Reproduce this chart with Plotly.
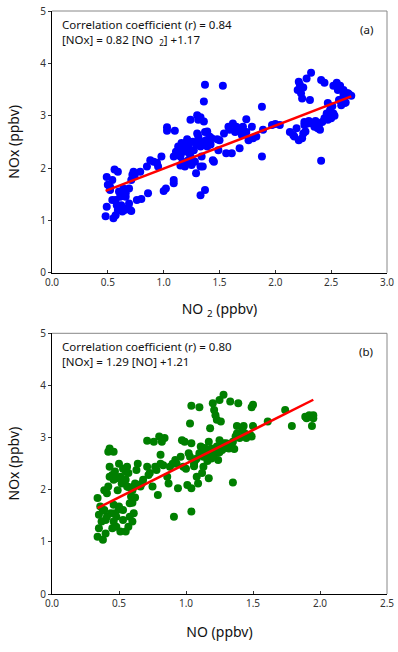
import plotly.graph_objects as go

# Panel (a): NO2 vs NOx
no2_a = [0.48,0.49,0.49,0.50,0.52,0.55,0.57,0.54,0.56,0.59,0.54,0.57,0.58,0.59,0.61,0.62,0.65,0.67,0.69,0.66,
         0.64,0.69,0.71,0.72,0.73,0.74,0.70,0.71,0.76,0.80,0.79,0.85,0.86,0.88,0.91,0.94,0.95,0.98,1.00,1.02,
         1.03,1.03,1.09,1.09,1.10,1.09,1.11,1.13,1.15,1.16,1.18,1.17,1.19,1.21,1.22,1.24,1.24,1.25,1.27,1.28,
         1.29,1.30,1.31,1.33,1.30,1.32,1.33,1.34,1.33,1.35,1.33,1.37,1.36,1.37,1.36,1.37,1.38,1.39,1.40,1.41,
         1.43,1.44,1.45,1.49,1.50,1.53,1.54,1.56,1.58,1.59,1.61,1.62,1.64,1.65,1.67,1.68,1.70,1.71,1.74,1.74,
         1.76,1.79,1.80,1.83,1.88,1.88,1.89,1.97,2.00,2.04,
         2.13,2.16,2.17,2.19,2.20,2.21,2.22,2.23,2.24,2.25,2.21,2.24,2.25,2.26,2.28,2.31,2.32,2.26,2.29,2.33,
         2.35,2.37,2.38,2.40,2.41,2.44,2.41,2.42,2.44,2.46,2.47,2.49,2.50,2.52,2.52,2.55,2.56,2.58,2.58,2.59,
         2.61,2.62,2.64,2.65,2.66,2.61,
         0.52,0.60,0.63,0.66,1.14,1.20,1.26,1.23,1.29,1.31,1.35,1.27,1.19,1.15,1.22,1.39,1.42,1.48,1.66,1.72,
         2.27,2.30,2.36,2.39,2.47,2.51,2.53,2.57,2.63,2.68]
nox_a = [1.08,1.26,1.83,1.68,1.64,1.04,1.10,1.77,1.97,1.93,1.39,1.39,1.29,1.20,1.45,1.29,1.20,1.23,1.32,1.52,
         1.61,1.61,1.77,1.87,1.93,1.85,1.20,1.18,1.39,1.41,1.93,2.03,1.52,2.15,2.12,2.10,2.03,2.22,1.56,1.61,
         2.78,2.71,1.71,1.77,2.71,2.22,2.31,2.41,2.22,2.48,2.31,2.12,2.03,2.55,2.41,2.22,2.92,2.06,2.34,2.12,
         1.90,3.01,2.92,2.97,2.66,2.53,2.41,2.22,2.03,2.03,1.48,1.58,3.27,3.59,2.89,2.69,2.53,2.41,2.48,2.60,
         2.57,2.15,2.12,2.34,2.53,3.57,2.66,2.28,2.79,2.73,2.28,2.85,2.69,2.79,2.76,2.38,2.63,2.79,2.93,2.69,
         2.53,2.79,2.57,2.60,3.17,2.22,2.73,2.82,2.84,2.82,
         2.69,2.63,2.60,2.76,3.49,3.65,3.59,3.43,3.33,3.54,2.53,2.57,2.66,2.82,3.71,3.30,3.82,2.88,2.85,2.85,
         2.79,2.82,2.76,2.73,3.68,3.63,2.14,2.88,2.95,3.04,3.24,3.11,2.95,3.04,3.57,3.63,3.49,3.57,3.30,3.20,
         3.40,3.24,3.43,3.43,3.41,3.49,
         1.58,1.55,1.17,1.45,2.35,2.45,2.50,2.28,2.45,2.60,2.48,2.13,2.40,2.05,2.15,2.70,2.45,2.55,2.72,2.70,
         2.70,2.90,2.90,2.78,2.92,3.18,3.00,3.30,3.25,3.38]

# Panel (b): NO vs NOx
no_b = [0.34,0.35,0.34,0.36,0.35,0.37,0.38,0.40,0.39,0.40,0.41,0.39,0.41,0.42,0.42,0.43,0.46,0.43,0.45,0.43,
        0.46,0.47,0.48,0.46,0.47,0.46,0.45,0.48,0.48,0.50,0.49,0.50,0.51,0.52,0.53,0.51,0.53,0.53,0.55,0.55,
        0.56,0.56,0.57,0.55,0.57,0.58,0.58,0.59,0.60,0.60,0.61,0.61,0.62,0.63,0.64,0.65,0.66,0.67,0.68,0.71,
        0.71,0.72,0.73,0.75,0.76,0.77,0.78,0.79,0.80,0.81,0.81,0.82,0.83,0.84,0.86,0.87,0.88,0.91,0.92,0.93,
        0.94,0.96,0.97,0.98,0.99,1.01,1.02,1.03,1.03,1.04,1.04,1.04,1.04,1.06,1.07,1.08,1.09,1.10,1.10,1.11,
        1.12,1.13,1.13,1.14,1.15,1.17,1.17,1.18,1.18,1.19,1.20,1.21,1.22,1.22,1.23,1.23,1.24,1.25,1.25,1.26,
        1.27,1.28,1.28,1.29,1.30,1.32,1.33,1.33,1.34,1.35,1.35,1.37,1.38,1.39,1.38,1.40,1.42,1.43,1.44,1.45,
        1.48,1.49,1.49,1.50,1.50,1.61,1.74,1.79,1.89,1.90,1.92,1.94,1.94,1.95,1.95,
        0.38,0.44,0.50,0.54,0.57,0.60,0.62,1.08,1.12,1.16,1.20,1.25,1.31,1.36,1.14,1.19,1.27,1.06,1.00,0.90]
nox_b = [1.10,1.26,1.84,1.68,1.52,1.39,1.04,1.16,1.61,1.42,1.48,1.99,1.93,2.06,2.73,2.79,2.73,2.44,2.28,2.25,
         2.19,2.35,2.22,1.71,1.55,1.39,1.26,1.29,1.48,1.68,1.99,2.50,2.25,2.12,2.40,1.20,1.42,1.61,2.35,2.19,
         2.44,2.06,2.32,1.20,1.29,1.48,1.74,1.87,1.99,1.39,1.55,2.06,2.12,2.38,2.50,2.09,2.06,2.12,2.19,2.94,
         2.44,2.28,2.32,2.06,2.92,2.44,2.38,1.90,3.02,2.67,2.50,2.92,2.47,2.99,2.25,2.12,2.44,1.48,2.57,2.50,
         2.03,2.63,2.95,2.44,2.92,2.09,2.70,3.27,2.63,3.61,2.89,1.58,2.03,2.50,2.57,2.25,2.12,3.58,2.70,2.83,
         2.32,2.63,2.44,2.73,2.63,2.92,2.22,3.18,2.70,2.79,3.66,3.53,2.70,3.43,2.83,3.34,2.57,2.95,3.72,3.31,
         2.76,2.89,3.82,2.83,2.89,2.79,3.69,2.83,2.86,2.14,2.92,3.02,3.08,3.66,3.22,2.99,3.15,3.22,3.08,2.99,
         3.05,3.02,3.58,3.63,3.22,3.31,3.53,3.22,3.40,3.37,3.43,3.40,3.22,3.37,3.43,
         1.60,1.55,1.62,2.20,2.05,1.75,1.85,2.60,2.70,2.55,2.65,2.72,2.80,2.78,2.80,2.60,2.85,2.45,2.40,2.50]

slope_a, icpt_a, r_a = 0.82, 1.17, 0.84
slope_b, icpt_b, r_b = 1.29, 1.21, 0.80

FONT = "Noto Sans"
fig = go.Figure()

fig.add_trace(go.Scatter(x=no2_a, y=nox_a, mode="markers", xaxis="x", yaxis="y",
                         marker=dict(color="#0000ff", size=8, line=dict(width=0)), showlegend=False))
xa = [min(no2_a), max(no2_a)]
fig.add_trace(go.Scatter(x=xa, y=[slope_a * v + icpt_a for v in xa], mode="lines", xaxis="x", yaxis="y",
                         line=dict(color="#ff0000", width=2.5), showlegend=False))

fig.add_trace(go.Scatter(x=no_b, y=nox_b, mode="markers", xaxis="x2", yaxis="y2",
                         marker=dict(color="#007f00", size=8, line=dict(width=0)), showlegend=False))
xb = [min(no_b), max(no_b)]
fig.add_trace(go.Scatter(x=xb, y=[slope_b * v + icpt_b for v in xb], mode="lines", xaxis="x2", yaxis="y2",
                         line=dict(color="#ff0000", width=2.5), showlegend=False))

W, H = 398, 652
ML, MR, MT, MB = 52, 11, 11, 58
PW, PH = W - ML - MR, H - MT - MB
xdom = [0, 1]
ydom_a = [(H - MB - 272.7) / PH, 1]
ydom_b = [0, (H - MB - 333.3) / PH]

tickfont = dict(family=FONT, size=10, color="#333333")
titlefont = dict(family=FONT, size=14, color="#111111")
common_x = dict(showgrid=False, zeroline=False, showline=True, linecolor="black", linewidth=1,
                ticks="inside", ticklen=3, tickcolor="#333333", tickfont=tickfont, dtick=0.5,
                tickformat=".1f", automargin=False)
common_y = dict(showgrid=False, zeroline=False, showline=True, linecolor="black", linewidth=1,
                ticks="outside", ticklen=3, tickcolor="#333333", tickfont=tickfont, dtick=1,
                range=[0, 5], automargin=False,
                title=dict(text="NOx (ppbv)", font=titlefont, standoff=17))

fig.update_layout(
    width=W, height=H, margin=dict(l=ML, r=MR, t=MT, b=MB, autoexpand=False),
    paper_bgcolor="white", plot_bgcolor="white",
    xaxis=dict(domain=xdom, anchor="y", range=[0, 3],
               title=dict(text="NO <sub>2</sub> (ppbv)", font=titlefont, standoff=16), **common_x),
    yaxis=dict(domain=ydom_a, anchor="x", **common_y),
    xaxis2=dict(domain=xdom, anchor="y2", range=[0, 2.5],
                title=dict(text="NO (ppbv)", font=titlefont, standoff=18), **common_x),
    yaxis2=dict(domain=ydom_b, anchor="x2", **common_y),
)

# gray top/right frame lines
for xr, yr in (("x domain", "y domain"), ("x2 domain", "y2 domain")):
    fig.add_shape(type="line", xref=xr, yref=yr, x0=0, x1=1, y0=1, y1=1, line=dict(color="#888888", width=1))
    fig.add_shape(type="line", xref=xr, yref=yr, x0=1, x1=1, y0=0, y1=1, line=dict(color="#888888", width=1))

annfont = dict(family=FONT, size=11.5, color="#111111")
for xr, yr, r, lab, eq in (
    ("x domain", "y domain", r_a, "(a)", f"[NOx] = {slope_a:.2f} [NO  <sub>2</sub>] +{icpt_a:.2f}"),
    ("x2 domain", "y2 domain", r_b, "(b)", f"[NOx] = {slope_b:.2f} [NO] +{icpt_b:.2f}"),
):
    fig.add_annotation(xref=xr, yref=yr, x=0.025, y=0.985, xanchor="left", yanchor="top",
                       text=f"Correlation coefficient (r) = {r:.2f}<br>{eq}", align="left",
                       showarrow=False, font=annfont)
    fig.add_annotation(xref=xr, yref=yr, x=0.965, y=0.93, xanchor="right", yanchor="middle",
                       text=lab, showarrow=False, font=annfont)

fig.write_html("out.html", config={"displayModeBar": False},
               post_script="document.body.style.margin='0px';")
